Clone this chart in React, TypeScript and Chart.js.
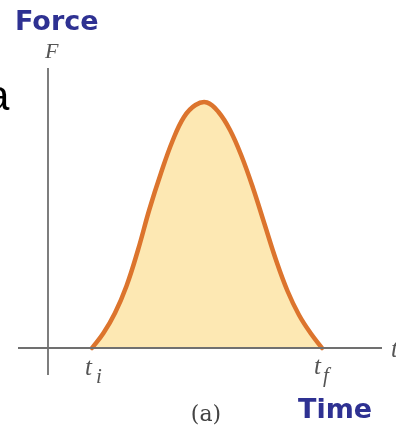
import { useEffect, useRef } from "react";
import { Chart, registerables } from "chart.js";

Chart.register(...registerables);

// Impulse curve: force over time between t_i and t_f
const timeValues = [4.4, 5.55, 6.7, 7.85, 9.0, 10.15, 11.3, 12.45, 13.6, 14.75, 15.9, 17.05, 18.2, 19.35, 20.5, 21.65, 22.8, 23.95, 25.1, 26.25, 27.4];
const forceValues = [0, 1.5, 3.5, 6.2, 9.8, 13.9, 17.5, 20.7, 23.1, 24.3, 24.55, 23.6, 21.8, 19.2, 16.0, 12.4, 8.8, 5.7, 3.3, 1.5, 0];
const tInitial = 4.4;
const tFinal = 27.4;
const xRange = [-3, 33.4];
const yRange = [-2.7, 28];

const BLUE = "#2E3192";
const GRAY_TEXT = "#555555";
const AXIS = "#707070";

const labelsPlugin = {
  id: "impulseLabels",
  afterDatasetsDraw(chart: any) {
    const { ctx, chartArea, scales } = chart;
    const x0 = scales.x.getPixelForValue(0);
    const y0 = scales.y.getPixelForValue(0);
    ctx.save();
    // axes crossing at the origin
    ctx.strokeStyle = AXIS;
    ctx.lineWidth = 1.8;
    ctx.beginPath();
    ctx.moveTo(chartArea.left, y0);
    ctx.lineTo(chartArea.right, y0);
    ctx.moveTo(x0, chartArea.top);
    ctx.lineTo(x0, chartArea.bottom);
    ctx.stroke();

    ctx.textBaseline = "alphabetic";
    ctx.textAlign = "left";

    ctx.fillStyle = BLUE;
    ctx.font = "bold 27px 'DejaVu Sans'";
    ctx.fillText("Force", 15, 30);
    ctx.fillText("Time", 298, 418);

    ctx.fillStyle = "#000";
    ctx.font = "42px 'Liberation Sans'";
    ctx.fillText("a", -14, 110);

    ctx.fillStyle = GRAY_TEXT;
    ctx.font = "italic 22px 'Liberation Serif'";
    ctx.fillText("F", x0 - 3, 58);

    const ti = scales.x.getPixelForValue(tInitial);
    const tf = scales.x.getPixelForValue(tFinal);
    ctx.font = "italic 25px 'Liberation Serif'";
    ctx.fillText("t", ti - 7, 375);
    ctx.fillText("t", tf - 8, 374);
    ctx.fillText("t", chartArea.right + 9, 357);
    ctx.font = "italic 21px 'Liberation Serif'";
    ctx.fillText("i", ti + 4, 383);
    ctx.fillText("f", tf + 1, 382);

    ctx.fillStyle = "#444";
    ctx.font = "22px 'DejaVu Serif'";
    ctx.textAlign = "center";
    ctx.fillText("(a)", 206, 421);
    ctx.restore();
  },
};

export default function App() {
  const canvasRef = useRef<HTMLCanvasElement | null>(null);

  useEffect(() => {
    const canvas = canvasRef.current;
    if (!canvas) return;
    const chart = new Chart(canvas, {
      type: "line",
      data: {
        datasets: [
          {
            data: timeValues.map((t, i) => ({ x: t, y: forceValues[i] })),
            borderColor: "#DC742D",
            borderWidth: 4.5,
            backgroundColor: "#FDE8B3",
            fill: "origin",
            pointRadius: 0,
            tension: 0.4,
            borderCapStyle: "round",
            borderJoinStyle: "round",
          },
        ],
      },
      options: {
        responsive: false,
        maintainAspectRatio: false,
        animation: false,
        layout: { padding: { left: 18, right: 14, top: 68, bottom: 54 } },
        plugins: { legend: { display: false }, tooltip: { enabled: false }, title: { display: false } },
        scales: {
          x: { type: "linear", display: false, min: xRange[0], max: xRange[1] },
          y: { type: "linear", display: false, min: yRange[0], max: yRange[1] },
        },
      },
      plugins: [labelsPlugin],
    });
    return () => chart.destroy();
  }, []);

  return (
    <div style={{ position: "fixed", left: 0, top: 0, width: 396, height: 429, background: "#fff" }}>
      <canvas ref={canvasRef} width={396} height={429} style={{ width: 396, height: 429, display: "block" }} />
    </div>
  );
}
